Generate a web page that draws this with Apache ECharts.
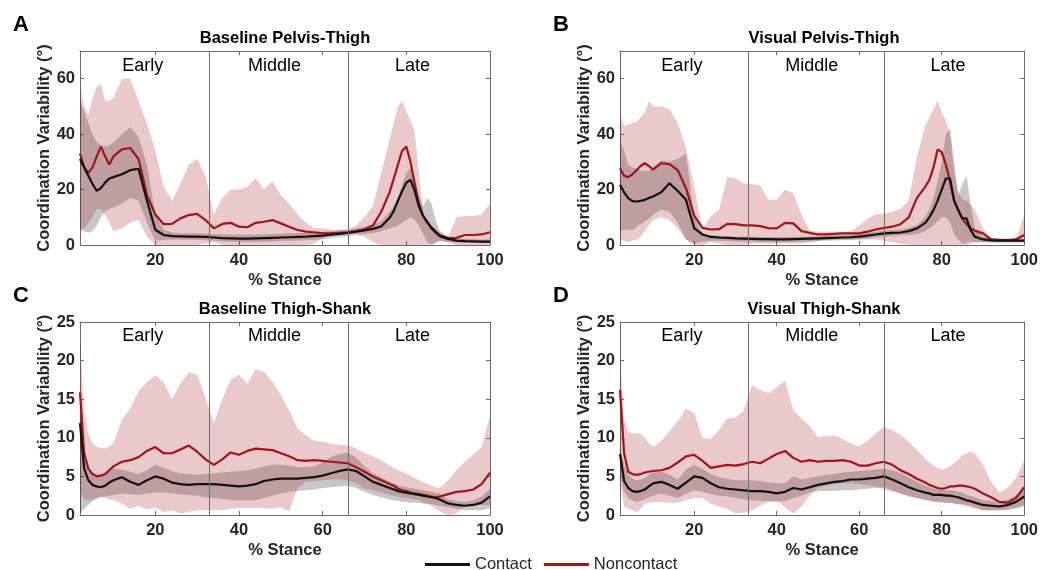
<!DOCTYPE html>
<html>
<head>
<meta charset="utf-8">
<script src="https://cdn.jsdelivr.net/npm/echarts@6/dist/echarts.min.js"></script>
<style>
html, body { margin: 0; padding: 0; background: #fff; }
#chart { width: 1041px; height: 570px; }
</style>
</head>
<body>
<div id="chart"></div>
<script>
// % stance sample points
const stance = [2,3,4,5,6,7,8,9,10, 12,14,16,18,20,22,24,26,28,30, 32,34,36,38,40,42,44,46,48,50,
  52,54,56,58,60,62,64,66,68,70, 72,74,76,77,78,79,80,81,82,83, 84,85,86,87,88,90,92,94,96,98,100];

const xTicks = [20, 40, 60, 80, 100];
const yTicksPelvis = [0, 20, 40, 60];
const yTicksShank = [0, 5, 10, 15, 20, 25];
const phaseBounds = [33, 66];
const regionNames = ['Early', 'Middle', 'Late'];
const regionCenters = [17, 48.5, 81.5];

// A: Baseline Pelvis-Thigh
const aConMean = [31,28,25,22,19.5,20.5,22.5,24,24.5, 25.5,27,27.5,16,5.5,3.6,3.2,3.1,3,3,
  2.9,2.7,2.5,2.4,2.3,2.3,2.4,2.5,2.6,2.7, 2.8,2.9,3,3.2,3.4,3.7,4,4.4,4.8,5.3,
  5.8,6.7,9.8,12.3,16,19.5,22.5,23.5,19.5,14, 10.5,8.4,6,4.5,3.2,2.2,1.6,1.4,1.3,1.2,1.2];
const aConUp = [52,48,44,40,37,36,35.5,36,37, 40,42.5,39,29,11,5.5,4.5,4.2,4.2,4.2,
  4.1,4,3.9,3.8,3.7,3.7,3.8,3.9,4,4.1, 4.2,4.3,4.4,4.6,4.8,5,5.3,5.6,6,6.5,
  7.3,8.5,12,14,17,22,26,28,25,18, 14,17,15,9,5,3.2,2.6,2.3,2.1,2,2];
const aConLow = [6,5,4.5,5,7,10,12,13,13.5, 15,17,16,8,1.5,1.8,2,2,1.9,1.8,
  1.7,1.5,1.3,1.2,1.1,1.1,1.1,1.2,1.3,1.4, 1.5,1.6,1.7,1.9,2.1,2.5,2.8,3.2,3.6,4,
  4.3,5,6,6.5,7,8,9,10,9,7, 4,1,0,0.5,1.5,1,0.8,0.7,0.7,0.6,0.6];
const aNonMean = [33,28,26,28,32,35.5,32,29,32, 34.5,35,31,18,11,7.5,7.6,9.6,10.8,11.2,
  9,6,7.6,8,6.6,6.4,8,8.4,9,7.8, 6.6,5.4,4.8,4.6,4.2,4.2,4.4,4.6,5,5.7,
  7,12,19,24,29,34,35.5,30,22,15, 10.5,8,6.5,5,3.6,2.4,2.6,3.6,3.6,3.8,4.6];
const aNonUp = [57,50,47,53,57,58,52,52,53, 60,60,52,44,34,21,16,22,29,31,
  25,11,17,20,20,21,24,20,23,18, 15,11,8,6,6,5.5,5.5,5.5,7,10,
  14,26,38,44,50,52,48,45,41,26, 12,8,5,4.5,4,3,10,10.5,10.5,11,15];
const aNonLow = [5,6,8,10,13,13,11,8,5, 6,8,9,3,0,0,0,0,0,0,
  0.5,1,0,0,0,0,0,0,0,0, 0,0,0,0.5,2.5,3.5,3.8,4,4,3,
  1,0,0,0,0,0,0,0,0,0, 0,0,0.5,1,1.5,1,0,0,0,0,0];

// B: Visual Pelvis-Thigh
const bConMean = [21.7,19,16.9,15.8,15.7,15.9,16.3,17,17.5, 19,22.3,19.5,16.3,6,3.8,2.9,2.7,2.6,2.4,
  2.3,2.2,2.1,2.1,2,2,2.1,2.2,2.3,2.4, 2.5,2.6,2.7,2.8,3,3.4,3.8,4.2,4.4,4.5,
  5,6,8,10,12.6,16,20,24,24,16, 12.6,9.6,9.6,5.4,3,2,1.7,1.6,1.6,1.6,1.6];
const bConUp = [38,34,29,28,27.5,27,26.5,27,28, 30.5,30,31,33,10,3.8,3.4,3.3,3.2,3.1,
  3,3,2.9,2.9,2.9,2.9,3,3,3.1,3.2, 3.3,3.4,3.5,3.7,4,4.4,4.8,5.2,5.4,5.6,
  6.2,7.2,10,13,17,23,30,40,42,30, 18,22,25,15,6,3,2.6,2.4,2.3,2.2,2.2];
const bConLow = [5,5.5,5.5,5.4,6.5,7.5,8.5,9.5,11, 12.7,12,8,2,0.6,1.2,1.5,1.5,1.4,1.3,
  1.2,1.2,1.1,1.1,1,1,1.1,1.2,1.3,1.4, 1.5,1.6,1.7,1.8,2,2.3,2.7,3.1,3.3,3.4,
  3.6,4,5,6,7,8.5,10,10,8,4, 2,0.5,0,0.5,1,1,0.9,0.8,0.8,0.8,0.8];
const bNonMean = [27.7,25,24.5,25.5,27,28.5,29.5,28.5,27.2, 29.5,29.2,27,20.5,10.5,6.2,5.6,5.7,7.6,7.5,
  7.1,7.1,6.8,6.1,6,8,7.8,5,4.4,3.8, 3.8,4,4.2,4.2,4.2,4.8,5.6,6.2,6.6,7.5,
  10,17,21,23.5,28,34.5,33.5,29,23,16, 12.5,9.5,7.5,6,5.2,4.2,2,1.8,1.8,2,3.6];
const bNonUp = [47,43,43.5,44,44.5,46,47.6,52,50, 50,49,44,35,21,5.5,10.5,12.6,24.5,24,
  22.3,22,21.5,16.3,16.3,19.9,18.7,11,5.2,4.8, 4.8,4.8,4.8,4.8,7,9.5,11,11.4,12,13,
  16,32,43,46,49,52,48,45,40,26, 19,16.5,16,14.5,13,6,2,1.8,1.8,2,10.8];
const bNonLow = [2,1.5,1,1.5,2,3,5,7,9, 10,9,6,2,0,0,1,0.5,0,0,
  0,0.5,0.5,0.5,0.5,0.5,0.5,0.5,1,1.5, 2,2,2,2,2,2,2,1.5,1,0.5,
  0,0,0,0,0,0,0,0,0,0, 0,0,1,1.5,1,1,1.2,1.2,1.2,1.2,1.2];

// C: Baseline Thigh-Shank
const cConMean = [11.9,6,4.5,3.9,3.7,3.6,3.8,4.2,4.5, 4.9,4.3,3.9,4.5,5,4.7,4.2,4,3.9,4,
  4,4,3.9,3.8,3.7,3.8,4,4.4,4.6,4.7, 4.7,4.7,4.8,4.9,5.1,5.4,5.7,5.9,5.7,5,
  4.3,3.9,3.5,3.3,3.1,3,2.9,2.8,2.7,2.6, 2.5,2.4,2.3,2.2,2,1.5,1.3,1.2,1.3,1.6,2.4];
const cConUp = [13,8,6,5.4,5.2,5.2,5.4,5.7,6, 5.9,5.6,5.3,5.8,6.5,6.1,5.7,5.4,5.3,5.2,
  5.3,5.4,5.5,5.6,5.7,5.8,6,6.3,6.5,6.5, 6.4,6.2,6.2,6.3,6.8,7.5,7.9,8.1,7.4,6.3,
  5.4,4.9,4.3,4.1,3.9,3.7,3.6,3.5,3.4,3.3, 3.2,3.1,3,2.9,2.8,2,1.8,1.7,1.9,2.4,3.4];
const cConLow = [0.2,0.8,1.3,1.8,2.1,2.3,2.4,2.5,2.6, 2.8,2.7,2.6,2.8,2.9,2.9,2.8,2.7,2.6,2.5,
  2.3,2.2,2.1,1.9,1.9,1.9,1.9,2.2,2.5,2.8, 3,3.1,3.2,3.3,3.5,3.6,3.7,3.8,3.5,3,
  2.6,2.3,2,1.9,1.8,1.7,1.7,1.6,1.6,1.6, 1.5,1.5,1.4,1.3,1.2,1,0.8,0.6,0.6,0.6,0.9];
const cNonMean = [15.9,8,6,5.3,5,5.1,5.3,5.8,6.3, 6.9,7.1,7.5,8.3,8.8,8,8,8.5,9,8.2,
  7.2,6.5,7.2,8.1,7.8,8.3,8.6,8.5,8.4,8, 7.6,7.1,7,7.1,7,6.9,6.8,6.7,6.2,5.6,
  5,4.5,4,3.8,3.4,3.2,3.1,2.9,2.8,2.7, 2.6,2.5,2.4,2.3,2.4,2.7,3,3.1,3.3,4,5.5];
const cNonUp = [22.5,13.5,10.5,9.3,8.8,8.7,8.6,8.9,9.3, 12.3,13.8,16,17.2,18.1,17.2,15,17,18.5,18.2,
  15.2,11.9,15,17.5,18.2,17,18.9,18.5,17.3,15.5, 13.5,11.2,10.3,9.6,9.5,9.2,9.1,9,8.6,8,
  7.6,7.1,6.4,6.1,5.8,5.6,5.3,5.1,4.8,4.5, 4.2,4,3.8,3.6,3.5,4.5,5.8,6.9,7.8,8.8,12.9];
const cNonLow = [3,2,1.9,2,2.2,2.4,2.2,2,1.9, 1.5,0.8,1.2,0.7,1,0.4,0.6,0.2,0.4,0.6,
  0.6,0.6,0.6,0.8,0.9,0.9,0.9,0.9,0.8,1, 0.5,3.5,4.3,4.4,4.5,4.6,4.6,4.5,4.1,3.4,
  3.2,2.9,2.6,2.5,2.4,2.3,2.2,2.1,2,1.9, 1.6,1.4,1.2,0.8,0.5,0,0.2,1.2,1.3,1.3,1.3];

// D: Visual Thigh-Shank
const dConMean = [7.9,4.4,3.5,3.1,3,3.1,3.3,3.7,4.1, 4.3,3.9,3.4,4.2,5,4.8,4.1,3.6,3.4,3.3,
  3.2,3.1,3.1,3,2.8,3,3.5,3.3,3.6,3.9, 4.1,4.3,4.4,4.6,4.6,4.7,4.8,5,4.6,4.1,
  3.6,3.2,2.9,2.8,2.6,2.6,2.6,2.5,2.5,2.4, 2.3,2.1,1.9,1.8,1.6,1.3,1.2,1.1,1.3,1.7,2.4];
const dConUp = [8.8,6.5,5.2,4.7,4.5,4.6,4.8,5.2,5.5, 5.6,5.2,4.6,5.9,6.5,6,5.3,4.9,4.7,4.5,
  4.5,4.5,4.4,4.2,4.1,4.1,5,4.6,4.8,5, 5.2,5.3,5.5,5.6,5.7,5.8,5.9,6,5.8,5.4,
  4.9,4.3,3.8,3.6,3.4,3.3,3.3,3.2,3.2,3.1, 3,2.9,2.6,2.5,2.3,1.9,1.8,1.7,2,2.5,3.4];
const dConLow = [5,3,2.2,1.9,1.7,1.8,2,2.3,2.5, 2.8,2.5,2.2,2.8,3.2,3,2.7,2.5,2.4,2.2,
  2,1.9,1.8,1.8,1.7,1.8,2.2,2.5,2.9,3.1, 3.1,3.1,3.2,3.2,3.3,3.4,3.5,3.6,3.2,2.8,
  2.4,2.2,1.9,1.8,1.7,1.7,1.6,1.6,1.6,1.5, 1.4,1.4,1.3,1.2,1,0.6,0.6,0.6,0.6,0.8,1.3];
const dNonMean = [16.2,8,5.6,5.3,5.2,5.3,5.5,5.6,5.7, 5.8,6.1,6.8,7.6,7.8,7,6.1,6.3,6.5,6.4,
  6.6,6.9,6.7,7.3,7.9,8.3,7.4,6.9,7.1,6.9, 7,7,7.1,6.9,6.4,6.4,6.7,6.9,6.5,5.8,
  5.3,4.7,4.2,3.9,3.7,3.5,3.4,3.5,3.7,3.7, 3.8,3.8,3.7,3.6,3.4,2.8,2.3,1.7,1.6,2.2,3.6];
const dNonUp = [20.5,12.5,10.8,10.6,10.6,10.5,10,9.3,8.8, 9.6,10.8,12.1,13.8,13.2,10,9.8,11,12.5,12.6,
  13.5,16.8,16.2,15.8,16.5,17.4,13.6,12.5,11.5,10.1, 10.2,10.3,9.8,9.3,8.9,9.6,10.6,11.4,11,10.4,
  9.5,8.4,7.3,6.8,6.4,6.1,5.9,6,6.3,6.7, 7.2,7.7,8,8.2,8,6.5,4.3,2.9,3.5,4.8,7.1];
const dNonLow = [4.5,1.1,0.8,0.6,0.4,0.8,1.5,1.6,1.7, 1.7,1.6,1.6,1.9,2.2,2.2,1.5,1.1,0.8,0.2,
  0.3,0.6,1.2,1.7,1.9,1,0.2,1.1,2.5,3.6, 3.8,4,4.1,4.1,4,3.9,3.7,3.3,3,2.8,
  2.5,2.2,2,1.9,1.8,1.7,1.7,1.6,1.6,1.5, 1.4,1.3,1.1,1,0.8,0.6,0.6,0.6,0.8,1,1.1];

const FONT = '"Liberation Sans", Arial, Helvetica, sans-serif';
const AXIS_GRAY = '#6a6a6a';
const TEXT_DARK = '#262626';
const CONTACT_LINE = '#111111';
const NONCONTACT_LINE = '#a31515';
const CONTACT_FILL = 'rgba(0,0,0,0.22)';
const NONCONTACT_FILL = 'rgba(162,20,20,0.23)';

const panels = [
  { letter: 'A', title: 'Baseline Pelvis-Thigh', yMax: 70, yTicks: yTicksPelvis,
    box: { left: 80, top: 51, width: 410, height: 194 },
    con: [aConMean, aConLow, aConUp], non: [aNonMean, aNonLow, aNonUp] },
  { letter: 'B', title: 'Visual Pelvis-Thigh', yMax: 70, yTicks: yTicksPelvis,
    box: { left: 620, top: 51, width: 408, height: 194 },
    con: [bConMean, bConLow, bConUp], non: [bNonMean, bNonLow, bNonUp] },
  { letter: 'C', title: 'Baseline Thigh-Shank', yMax: 25, yTicks: yTicksShank,
    box: { left: 80, top: 322, width: 410, height: 193 },
    con: [cConMean, cConLow, cConUp], non: [cNonMean, cNonLow, cNonUp] },
  { letter: 'D', title: 'Visual Thigh-Shank', yMax: 25, yTicks: yTicksShank,
    box: { left: 620, top: 322, width: 408, height: 193 },
    con: [dConMean, dConLow, dConUp], non: [dNonMean, dNonLow, dNonUp] }
];

// band between lower and upper, drawn once as one polygon
function bandSeries(lower, upper, fill, i) {
  return {
    type: 'custom', xAxisIndex: 2 * i, yAxisIndex: 2 * i, silent: true, z: 1,
    data: stance.map((x, k) => [x, lower[k], upper[k]]),
    encode: { x: 0, y: [1, 2] },
    renderItem: function (params, api) {
      if (params.dataIndex !== 0) return null;
      const pts = [];
      for (let k = 0; k < stance.length; k++) pts.push(api.coord([stance[k], upper[k]]));
      for (let k = stance.length - 1; k >= 0; k--) pts.push(api.coord([stance[k], lower[k]]));
      return { type: 'polygon', shape: { points: pts }, style: { fill: fill } };
    }
  };
}

function lineSeries(name, values, color, i) {
  return {
    type: 'line', name: name, xAxisIndex: 2 * i, yAxisIndex: 2 * i, z: 3,
    data: stance.map((x, k) => [x, values[k]]),
    showSymbol: false, symbol: 'none', silent: true,
    lineStyle: { color: color, width: 2.2 },
    itemStyle: { color: color }
  };
}

const grid = [], xAxis = [], yAxis = [], series = [], graphic = [];
const line = { show: true, onZero: false, lineStyle: { color: AXIS_GRAY, width: 1 } };
const ticks = vals => ({ show: true, inside: true, length: 4, customValues: vals, lineStyle: { color: AXIS_GRAY } });
const labelStyle = { fontSize: 16.5, fontWeight: 'bold', color: TEXT_DARK, fontFamily: FONT };

panels.forEach((p, i) => {
  grid.push(p.box);
  xAxis.push({
    gridIndex: i, type: 'value', min: 2, max: 100, position: 'bottom',
    axisLine: line, axisTick: ticks(xTicks), splitLine: { show: false },
    axisLabel: Object.assign({ customValues: xTicks, margin: 7 }, labelStyle),
    name: '% Stance', nameLocation: 'middle', nameGap: 27, nameTextStyle: labelStyle
  });
  xAxis.push({
    gridIndex: i, type: 'value', min: 2, max: 100, position: 'top',
    axisLine: line, axisTick: ticks(xTicks), axisLabel: { show: false }, splitLine: { show: false }
  });
  yAxis.push({
    gridIndex: i, type: 'value', min: 0, max: p.yMax, position: 'left',
    axisLine: line, axisTick: ticks(p.yTicks), splitLine: { show: false },
    axisLabel: Object.assign({ customValues: p.yTicks, margin: 5 }, labelStyle),
    name: 'Coordination Variability (°)', nameLocation: 'middle', nameGap: 26, nameTextStyle: labelStyle
  });
  yAxis.push({
    gridIndex: i, type: 'value', min: 0, max: p.yMax, position: 'right',
    axisLine: line, axisTick: ticks(p.yTicks), axisLabel: { show: false }, splitLine: { show: false }
  });

  series.push(bandSeries(p.con[1], p.con[2], CONTACT_FILL, i));
  series.push(bandSeries(p.non[1], p.non[2], NONCONTACT_FILL, i));

  // phase labels + phase boundaries
  series.push({
    type: 'scatter', xAxisIndex: 2 * i, yAxisIndex: 2 * i, silent: true, z: 2,
    symbolSize: 0, itemStyle: { color: 'rgba(0,0,0,0)' },
    data: regionCenters.map((x, k) => ({ value: [x, p.yMax * 0.925], name: regionNames[k] })),
    label: { show: true, position: 'inside', formatter: '{b}', fontSize: 18, color: '#000', opacity: 1,
      textBorderWidth: 0, fontFamily: FONT },
    markLine: {
      silent: true, symbol: ['none', 'none'], label: { show: false },
      lineStyle: { color: '#6e6e6e', width: 1, type: 'solid' },
      data: phaseBounds.map(b => ({ xAxis: b }))
    }
  });

  series.push(lineSeries('Noncontact', p.non[0], NONCONTACT_LINE, i));
  series.push(lineSeries('Contact', p.con[0], CONTACT_LINE, i));

  const cx = p.box.left + p.box.width / 2;
  graphic.push({
    type: 'text', x: cx, y: p.box.top - 13,
    style: { text: p.title, align: 'center', verticalAlign: 'middle', textAlign: 'center', textVerticalAlign: 'middle',
      font: 'bold 16.5px ' + FONT, fill: '#000' }
  });
  graphic.push({
    type: 'text', x: p.box.left - 67, y: p.box.top - 26,
    style: { text: p.letter, align: 'left', verticalAlign: 'middle', textAlign: 'left', textVerticalAlign: 'middle',
      font: 'bold 22px ' + FONT, fill: '#000' }
  });
});

const chart = echarts.init(document.getElementById('chart'), null, { renderer: 'canvas' });
chart.setOption({
  animation: false,
  backgroundColor: '#fff',
  grid: grid,
  xAxis: xAxis,
  yAxis: yAxis,
  series: series,
  graphic: graphic,
  legend: {
    data: ['Contact', 'Noncontact'], left: 420, top: 551,
    icon: 'rect', itemWidth: 45, itemHeight: 3, itemGap: 12,
    textStyle: { fontSize: 16.5, color: TEXT_DARK, fontFamily: FONT }
  }
});
</script>
</body>
</html>
